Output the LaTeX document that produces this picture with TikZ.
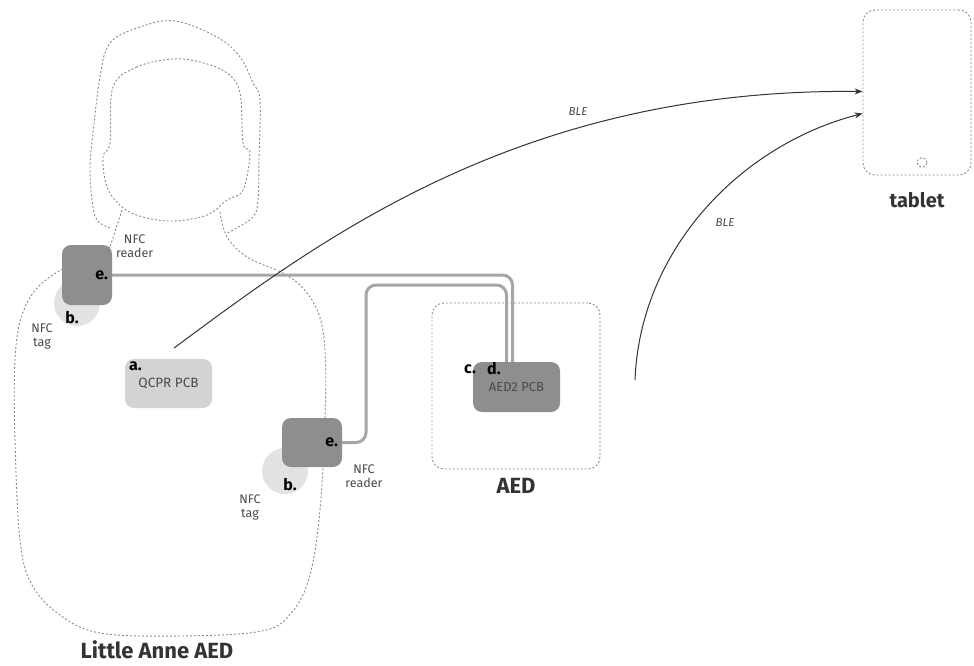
\documentclass[tikz,border=0pt]{standalone}
\usepackage{fontspec}
\setmainfont{Fira Sans}
\usetikzlibrary{arrows.meta,positioning}

\definecolor{contorno}{HTML}{8A8A8A}
\definecolor{leitor}{HTML}{8E8E8E}
\definecolor{placa}{HTML}{D3D3D3}
\definecolor{etiqueta}{HTML}{E2E2E2}
\definecolor{cabo}{HTML}{A6A6A6}
\definecolor{texto}{HTML}{4A4A4A}

\tikzset{
  outline/.style={draw=contorno, line width=0.9pt, dash pattern=on 2pt off 2pt},
  reader/.style={fill=leitor, rounded corners=9pt},
  pcbbox/.style={rounded corners=9pt, text=texto, font=\fontsize{13}{15}\selectfont},
  tagdisc/.style={circle, fill=etiqueta, minimum size=46pt, inner sep=0pt},
  letter/.style={font=\fontsize{16}{17}\bfseries, inner sep=0pt},
  small/.style={font=\fontsize{12.5}{14}\selectfont, text=texto, align=center, inner sep=0pt},
  title/.style={font=\fontsize{22}{25}\bfseries, text=black!80},
  cable/.style={draw=cabo, line width=3pt, rounded corners=10pt},
  ble/.style={-{Stealth[length=8pt,width=6pt]}, draw=black!80, line width=1pt},
  blelabel/.style={font=\fontsize{11.5}{13}\itshape, text=texto}
}

\begin{document}
\begin{tikzpicture}[x=1pt,y=-1pt]
  \useasboundingbox (0,0) rectangle (974,665);

  % Boneco: cabelo
  \draw[outline] plot[smooth, tension=0.6] coordinates {(110,228) (97,220) (92,200) (90,167) (93,133) (100,77) (110,43) (140,27) (175,21) (217,37) (240,57) (253,83) (260,100) (259,160) (258,200) (253,217) (233,230) (226,233)};
  % Rosto
  \draw[outline] plot[smooth cycle, tension=0.6] coordinates {(172,59) (137,67) (113,87) (110,143) (103,157) (107,187) (122,207) (143,217) (173,221) (207,215) (227,200) (243,190) (250,153) (243,143) (240,93) (227,73) (200,62)};
  % Pescoço
  \draw[outline] (122,210) -- (110,247);
  \draw[outline] plot[smooth, tension=0.6] coordinates {(220,212) (227,237) (247,257) (277,270)};
  % Tronco
  \draw[outline] plot[smooth, tension=0.6] coordinates {(110,247) (75,262) (40,285) (22,315) (15,360) (15,440) (20,540) (32,585) (60,615) (100,633) (180,636) (262,631) (292,612) (310,575) (320,510) (325,420) (325,350) (318,312) (300,285) (277,270)};
  \node[title] (manequim) at (157,650) {Little Anne AED};

  % Tablet
  \node[outline, rounded corners=12pt, minimum width=108pt, minimum height=165pt] (tablet) at (917,92.5) {};
  \draw[outline] ([yshift=-70pt]tablet.center) ++(5,0) circle (5pt);
  \node[title, font=\fontsize{20}{23}\bfseries, below=13pt of tablet] (tabletlabel) {tablet};

  % Desfibrilhador
  \node[outline, rounded corners=12pt, minimum width=168pt, minimum height=166pt] (aed) at (516,386) {};
  \node[title, below=5pt of aed] (aedlabel) {AED};
  \node[pcbbox, fill=leitor, minimum width=87pt, minimum height=50pt] (aedpcb) at (516.5,387) {\raisebox{-4pt}{AED2 PCB}};
  \node[letter, anchor=west] (c) at (464,369) {c.};
  \node[letter, anchor=west] (d) at (487,369) {d.};

  % Placa QCPR
  \node[pcbbox, fill=placa, minimum width=87pt, minimum height=49pt] (qcpr) at (168.5,383.5) {\raisebox{-4pt}{\fontsize{13.5}{15}\selectfont QCPR PCB}};
  \node[letter, anchor=north west] (a) at ([xshift=4pt,yshift=-3pt]qcpr.north west) {a.};

  % Etiquetas e leitores NFC (ombro)
  \node[tagdisc] (tagA) at (77,303) {};
  \node[reader, minimum width=50pt, minimum height=60pt] (readerA) at (87,275) {};
  \node[letter, anchor=east] at ([xshift=-4pt]readerA.east) {e.};
  \node[letter] at ([xshift=-5pt,yshift=-15pt]tagA.center) {b.};
  \node[small, anchor=west] (readerAlabel) at (116,246) {NFC\\reader};
  \node[small] (tagAlabel) at (42,336) {NFC\\tag};

  % Etiquetas e leitores NFC (peito)
  \node[tagdisc] (tagB) at (285,471) {};
  \node[reader, minimum width=60pt, minimum height=49pt] (readerB) at (312,442.5) {};
  \node[letter, anchor=east] at ([xshift=-4pt]readerB.east) {e.};
  \node[letter] at ([xshift=5pt,yshift=-14pt]tagB.center) {b.};
  \node[small] (readerBlabel) at (364,476) {NFC\\reader};
  \node[small] (tagBlabel) at (250,507) {NFC\\tag};

  % Cabos
  \coordinate (bend) at (366,285);
  \draw[cable] (readerA.east) -| ([xshift=-4pt]aedpcb.north);
  \draw[cable] (readerB.east) -| (bend) -| ([xshift=-10pt]aedpcb.north);

  % Ligações BLE
  \coordinate (qcprout) at (174,348);
  \coordinate (aedout) at (635,380);
  \draw[ble] (qcprout) .. controls (320,240) and (520,88) .. ([yshift=1pt]tablet.west);
  \draw[ble] (aedout) .. controls (640,250) and (740,145) .. ([yshift=-21pt]tablet.west);
  \node[blelabel] at (578,112) {BLE};
  \node[blelabel] at (725,223) {BLE};
\end{tikzpicture}
\end{document}
